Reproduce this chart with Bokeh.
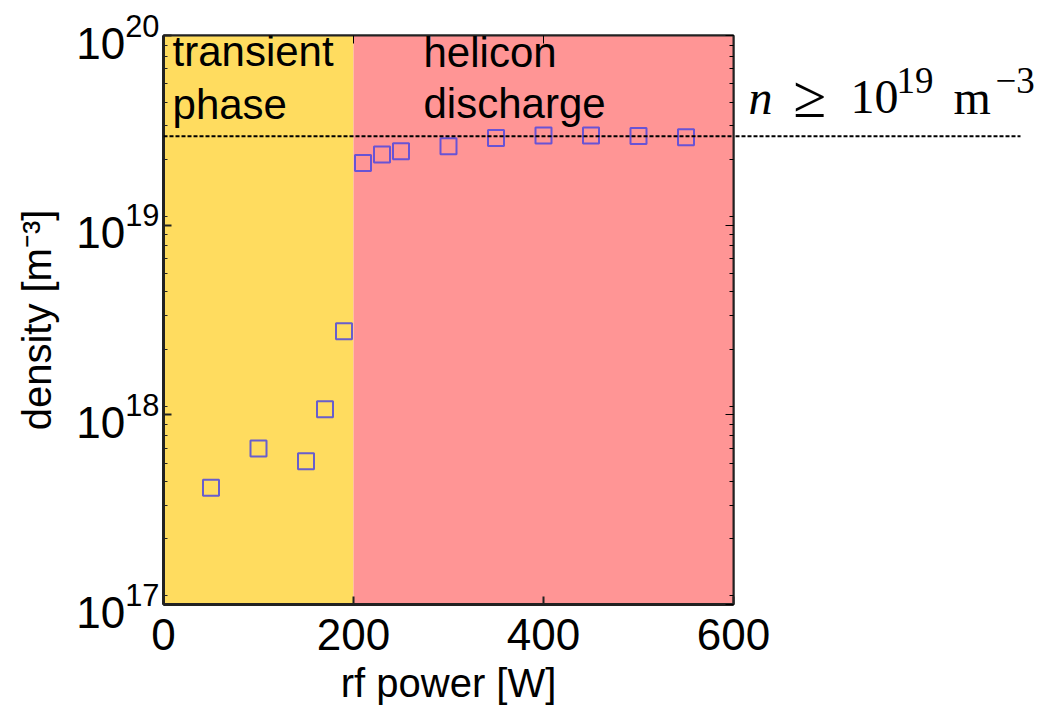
from bokeh.plotting import figure
from bokeh.layouts import row
from bokeh.models import (LogAxis, LinearAxis, Label, Span, FixedTicker, LogTicker,
                          CustomJSTickFormatter, Range1d)
from bokeh.embed import file_html
from bokeh.resources import INLINE

# ---- data ----
power = [50, 100, 150, 170, 190, 210, 230, 250, 300, 350, 400, 450, 500, 550]
density = [4.13e17, 6.65e17, 5.7e17, 1.07e18, 2.76e18, 2.13e19, 2.36e19, 2.45e19,
           2.61e19, 2.88e19, 2.97e19, 2.97e19, 2.95e19, 2.91e19]
region_left = [0, 200]
region_right = [200, 600]
region_colors = ["#FFDC5F", "#FF9595"]
threshold = 2.94e19
x_ticks = [0, 200, 400, 600]

FONT = "Liberation Sans"
SERIF = "Liberation Serif"
OVERLAP = 40

yr = Range1d(1e17, 1e20)

p = figure(frame_width=570, frame_height=569, x_range=(0, 600), y_range=yr,
           y_axis_type="log", output_backend="svg", toolbar_location=None,
           min_border_left=163, min_border_right=OVERLAP, min_border_top=35, min_border_bottom=105)
p.background_fill_color = "white"
p.border_fill_color = "white"
p.grid.visible = False
p.outline_line_color = "#222222"
p.outline_line_width = 2

# background regions
p.quad(left=region_left, right=region_right, bottom=1e17, top=1e20,
       fill_color=region_colors, line_color=None)

# data
p.scatter(power, density, marker="square", size=16, fill_color=None,
          line_color="#4E48E0", line_width=2, line_alpha=0.85)

# threshold dashed line
p.add_layout(Span(location=threshold, dimension="width", line_color="black",
                  line_width=2, line_dash="4 2"))

# axes styling
for ax in p.xaxis + p.yaxis:
    ax.major_label_text_font = FONT
    ax.major_label_text_font_size = "44px"
    ax.major_label_text_color = "black"
    ax.axis_label_text_font = FONT
    ax.axis_label_text_font_size = "40px"
    ax.axis_label_text_font_style = "normal"
    ax.axis_label_text_color = "black"
    ax.axis_line_color = "#222222"
    ax.axis_line_width = 3
    ax.major_tick_in = 8
    ax.major_tick_out = 0
    ax.minor_tick_in = 4
    ax.minor_tick_out = 0
    ax.major_tick_line_color = "#222222"
    ax.minor_tick_line_color = "#222222"
    ax.major_tick_line_width = 2

p.xaxis.ticker = FixedTicker(ticks=x_ticks, minor_ticks=[])
p.xaxis.axis_label = "rf power [W]"
p.xaxis.major_label_standoff = 14
p.xaxis.axis_label_standoff = 8
p.yaxis.ticker = LogTicker(num_minor_ticks=9)
p.yaxis.axis_label = "density [m⁻³]"
p.yaxis.major_label_standoff = 4
p.yaxis.axis_label_standoff = 14

# mirrored axes (ticks only, no labels)
blank = CustomJSTickFormatter(code="return ''")
ra = LogAxis(ticker=LogTicker(num_minor_ticks=9), formatter=blank, major_label_standoff=0,
             major_tick_in=8, major_tick_out=0, minor_tick_in=4, minor_tick_out=0,
             axis_line_color="#222222", axis_line_width=2)
p.add_layout(ra, "right")
ta = LinearAxis(ticker=FixedTicker(ticks=x_ticks, minor_ticks=[]), formatter=blank,
                major_label_standoff=0, major_tick_in=8, major_tick_out=0,
                axis_line_color="#222222", axis_line_width=2)
p.add_layout(ta, "above")


def lab(fig, x, y, t, size="42px", font=FONT, style="normal"):
    fig.add_layout(Label(x=x, y=y, text=t, text_font=font, text_font_size=size,
                         text_font_style=style, text_color="black",
                         text_baseline="alphabetic"))

lab(p, 9.5, 8.23e19, "transient")
lab(p, 9.5, 4.32e19, "phase")
lab(p, 273.7, 8.13e19, "helicon")
lab(p, 273.7, 4.37e19, "discharge")

# right-hand transparent panel overlapping the main figure's right border:
# continuation of the threshold line and its annotation
q = figure(frame_width=321 + OVERLAP, frame_height=569, x_range=(0, 321 + OVERLAP), y_range=yr,
           y_axis_type="log", output_backend="svg", toolbar_location=None,
           min_border_left=0, min_border_right=0, min_border_top=35, min_border_bottom=105)
q.axis.visible = False
q.grid.visible = False
q.outline_line_color = None
q.background_fill_alpha = 0
q.border_fill_alpha = 0
q.margin = (0, 0, 0, -OVERLAP)
q.segment(x0=[2], x1=[287], y0=[threshold], y1=[threshold], line_color="black",
          line_width=2, line_dash="4 2")

lab(q, 15, 4.72e19, "n", size="48px", font=SERIF, style="italic")
lab(q, 60, 4.72e19, "≥", size="60px", font=SERIF)
lab(q, 117, 4.72e19, "10", size="48px", font=SERIF)
lab(q, 163, 5.76e19, "19", size="37px", font=SERIF)
lab(q, 220, 4.72e19, "m", size="48px", font=SERIF)
lab(q, 262, 5.76e19, "−3", size="37px", font=SERIF)

layout = row(p, q, spacing=0)
open("out.html", "w").write(file_html(layout, INLINE))
